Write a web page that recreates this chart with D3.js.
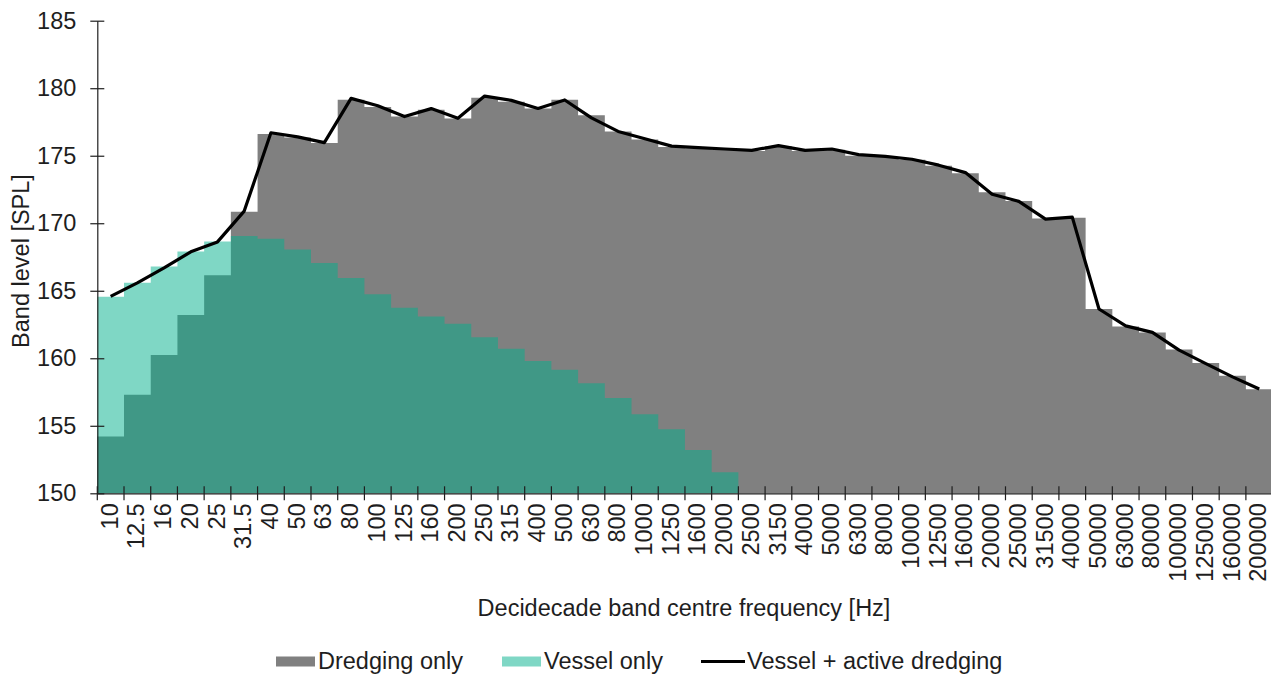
<!DOCTYPE html>
<html>
<head>
<meta charset="utf-8">
<script src="https://cdn.jsdelivr.net/npm/d3@7"></script>
<style>
  html, body { margin: 0; padding: 0; background: #fff; }
  svg { display: block; font-family: "Liberation Sans", Arial, sans-serif; }
</style>
</head>
<body>
<svg id="chart" width="1271" height="677"></svg>
<script>
// Decidecade band centre frequencies [Hz]
const categories = ["10","12.5","16","20","25","31.5","40","50","63","80",
  "100","125","160","200","250","315","400","500","630","800",
  "1000","1250","1600","2000","2500","3150","4000","5000","6300","8000",
  "10000","12500","16000","20000","25000","31500","40000","50000","63000","80000",
  "100000","125000","160000","200000"];

// Band levels [SPL], dredging source alone
const dredging = [154.2, 157.3, 160.25, 163.2, 166.15, 170.85, 176.6, 176.35, 175.95, 179.15,
  178.6, 177.9, 178.4, 177.75, 179.3, 179.0, 178.5, 179.15, 178.0, 176.8,
  176.2, 175.65, 175.55, 175.45, 175.35, 175.7, 175.35, 175.45, 175.0, 174.9,
  174.7, 174.25, 173.7, 172.3, 171.65, 170.35, 170.4, 163.65, 162.35, 161.9,
  160.65, 159.65, 158.7, 157.7];

// Band levels [SPL], vessel alone (below 150 above 2 kHz)
const vessel = [164.55, 165.6, 166.8, 167.9, 168.65, 169.05, 168.85, 168.05, 167.05, 165.95,
  164.75, 163.75, 163.1, 162.55, 161.55, 160.7, 159.8, 159.15, 158.15, 157.05,
  155.85, 154.75, 153.2, 151.55, null, null, null, null, null, null,
  null, null, null, null, null, null, null, null, null, null,
  null, null, null, null];

// Band levels [SPL], vessel with active dredging
const combined = [164.58, 165.58, 166.7, 167.88, 168.62, 170.9, 176.7, 176.4, 175.97, 179.25,
  178.7, 177.9, 178.49, 177.77, 179.42, 179.1, 178.5, 179.13, 177.8, 176.8,
  176.26, 175.71, 175.6, 175.5, 175.4, 175.75, 175.4, 175.5, 175.08, 174.95,
  174.74, 174.3, 173.75, 172.15, 171.62, 170.3, 170.45, 163.65, 162.4, 161.92,
  160.6, 159.6, 158.62, 157.72];

const yTicks = [150, 155, 160, 165, 170, 175, 180, 185];

const seriesNames = ["Dredging only", "Vessel only", "Vessel + active dredging"];

const GREY = "#808080";
const TEAL = "rgb(0,176,140)";
const TEAL_ALPHA = 0.5;
const INK = "#1e1e1e";
const FONT = 23.5;

const svg = d3.select("#chart");

const x = d3.scaleBand().domain(categories).range([97.3, 1272.6]).padding(0);
const y = d3.scaleLinear().domain([150, 185]).range([493.3, 20.7]);
const bw = x.bandwidth();

// Turn a per-band series into a flat-topped stepped outline
function steps(values) {
  const pts = [];
  values.forEach((v, i) => {
    if (v == null) return;
    const x0 = x(categories[i]);
    pts.push({ x: x0, v: v });
    pts.push({ x: x0 + bw, v: v });
  });
  return pts;
}

const stepArea = d3.area()
  .x(d => d.x)
  .y0(y(150))
  .y1(d => y(d.v));

// Dredging-only band levels
svg.append("path")
  .datum(steps(dredging))
  .attr("d", stepArea)
  .attr("fill", GREY);

// Vessel-only band levels, translucent over the dredging bands
svg.append("path")
  .datum(steps(vessel))
  .attr("d", stepArea)
  .attr("fill", TEAL)
  .attr("fill-opacity", TEAL_ALPHA);

// Y axis
const yAxis = svg.append("g")
  .attr("transform", `translate(${x.range()[0]},0)`)
  .call(d3.axisLeft(y).tickValues(yTicks).tickSizeInner(7).tickSizeOuter(0).tickPadding(14));
yAxis.select(".domain").attr("stroke", INK).attr("stroke-width", 1.2);
yAxis.selectAll(".tick line").attr("x1", -7).attr("x2", 7).attr("stroke", INK).attr("stroke-width", 1.2);
yAxis.selectAll(".tick text")
  .attr("fill", INK)
  .style("font-size", FONT + "px")
  .style("font-family", "'Liberation Sans', Arial, sans-serif");

// X axis: labels at band centres, ticks on band boundaries
const xAxis = svg.append("g")
  .attr("transform", `translate(0,${y(150)})`)
  .call(d3.axisBottom(x).tickSize(0).tickPadding(0));
xAxis.select(".domain").attr("stroke", INK).attr("stroke-width", 1.2);
xAxis.selectAll(".tick text")
  .attr("transform", "rotate(-90)")
  .attr("text-anchor", "end")
  .attr("x", -10)
  .attr("y", 0)
  .attr("dy", "0.3em")
  .attr("fill", INK)
  .style("font-size", FONT + "px")
  .style("font-family", "'Liberation Sans', Arial, sans-serif");

const boundaries = categories.map(c => x(c)).concat([x.range()[1]]);
xAxis.selectAll(".bound")
  .data(boundaries)
  .enter().append("line")
  .attr("class", "bound")
  .attr("x1", d => d).attr("x2", d => d)
  .attr("y1", -7).attr("y2", 7)
  .attr("stroke", INK).attr("stroke-width", 1.2);

// Vessel + active dredging line through band centres
const line = d3.line()
  .x((d, i) => x(categories[i]) + bw / 2)
  .y(d => y(d));
svg.append("path")
  .datum(combined)
  .attr("d", line)
  .attr("fill", "none")
  .attr("stroke", "#000")
  .attr("stroke-width", 3.2)
  .attr("stroke-linejoin", "round");

// Axis titles
svg.append("text")
  .attr("transform", `translate(29,${(y(150) + y(185)) / 2 + 4}) rotate(-90)`)
  .attr("text-anchor", "middle")
  .attr("fill", INK)
  .style("font-size", FONT + "px")
  .text("Band level [SPL]");

svg.append("text")
  .attr("x", 684)
  .attr("y", 616)
  .attr("text-anchor", "middle")
  .attr("fill", INK)
  .style("font-size", FONT + "px")
  .text("Decidecade band centre frequency [Hz]");

// Legend
const legend = svg.append("g").attr("transform", "translate(0,669)");
const items = [
  { name: seriesNames[0], kind: "rect", color: GREY, opacity: 1, x: 276 },
  { name: seriesNames[1], kind: "rect", color: TEAL, opacity: TEAL_ALPHA, x: 502 },
  { name: seriesNames[2], kind: "line", color: "#000", opacity: 1, x: 701 }
];
items.forEach(it => {
  if (it.kind === "rect") {
    legend.append("rect")
      .attr("x", it.x).attr("y", -12.5)
      .attr("width", 39).attr("height", 10)
      .attr("fill", it.color).attr("fill-opacity", it.opacity);
  } else {
    legend.append("line")
      .attr("x1", it.x).attr("x2", it.x + 44)
      .attr("y1", -7.5).attr("y2", -7.5)
      .attr("stroke", it.color).attr("stroke-width", 3.2);
  }
  legend.append("text")
    .attr("x", it.x + (it.kind === "rect" ? 42 : 46))
    .attr("y", 0)
    .attr("fill", INK)
    .style("font-size", FONT + "px")
    .text(it.name);
});
</script>
</body>
</html>
